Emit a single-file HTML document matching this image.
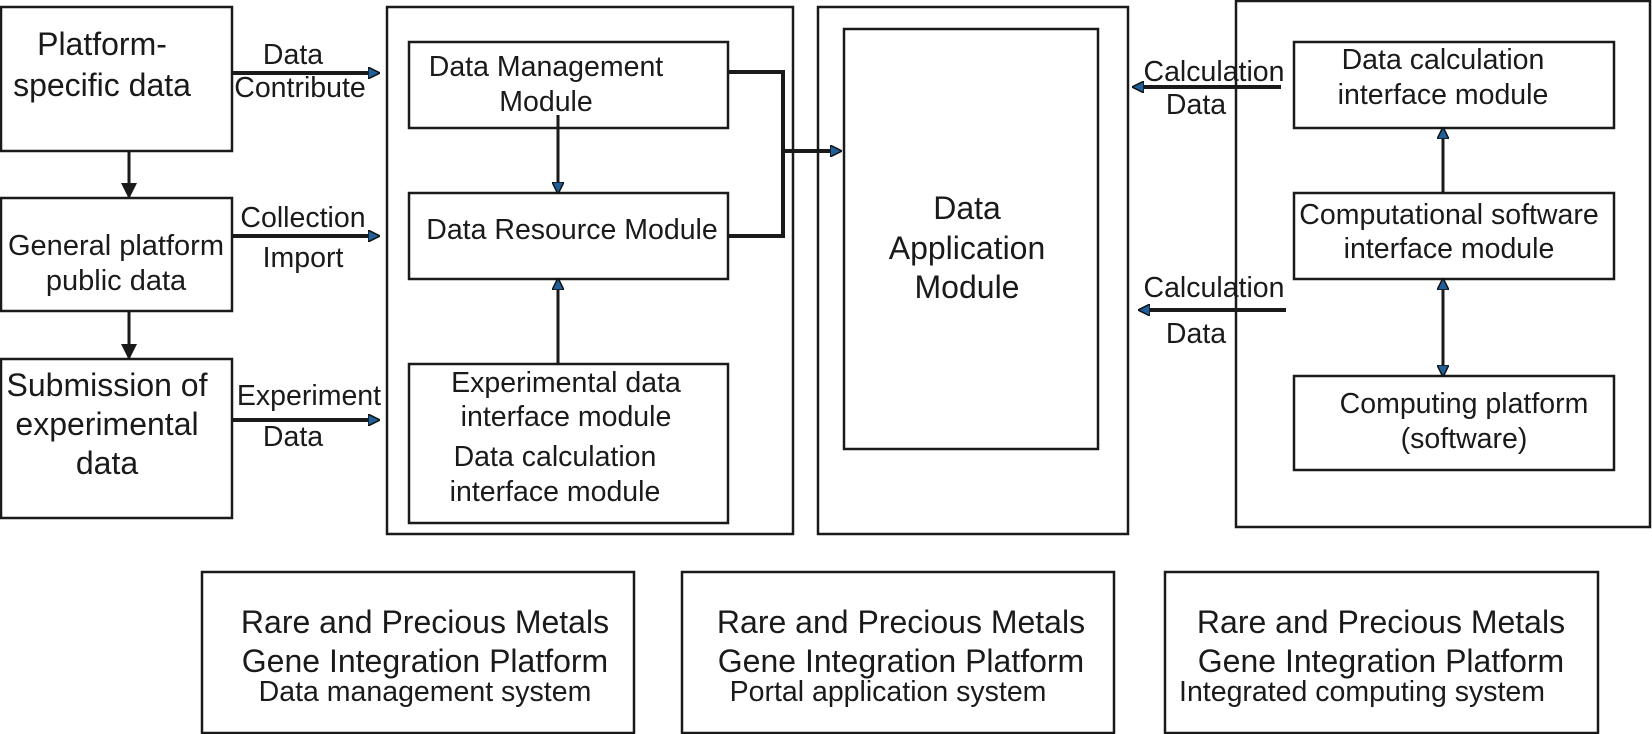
<!DOCTYPE html>
<html><head><meta charset="utf-8"><style>
html,body{margin:0;padding:0;background:#fff}
svg{display:block}
text{font-family:"Liberation Sans",Arial,sans-serif;fill:#1a1a1a;text-anchor:middle}
</style></head><body>
<svg width="1652" height="734" viewBox="0 0 1652 734">
<defs>
<marker id="a" markerWidth="12" markerHeight="12" refX="10" refY="6" orient="auto" markerUnits="userSpaceOnUse" viewBox="0 0 12 12">
<path d="M0,0 L12,6 L0,12 Z" fill="#1f5f9a" stroke="#111" stroke-width="1.5"/></marker>
<marker id="b" markerWidth="16" markerHeight="16" refX="14" refY="8" orient="auto" markerUnits="userSpaceOnUse" viewBox="0 0 16 16">
<path d="M0,0 L16,8 L0,16 Z" fill="#1a1a1a"/></marker>
</defs>
<g fill="none" stroke="#1a1a1a" stroke-width="2.5">
<rect x="1" y="7" width="231" height="144"/>
<rect x="1" y="198" width="231" height="113"/>
<rect x="1" y="359" width="231" height="159"/>
<rect x="387" y="7" width="406" height="527"/>
<rect x="409" y="42" width="319" height="86"/>
<rect x="409" y="193" width="319" height="86"/>
<rect x="409" y="364" width="319" height="159"/>
<rect x="818" y="7" width="310" height="527"/>
<rect x="844" y="29" width="254" height="420"/>
<rect x="1236" y="1" width="414" height="526"/>
<rect x="1294" y="42" width="320" height="86"/>
<rect x="1294" y="193" width="320" height="86"/>
<rect x="1294" y="376" width="320" height="94"/>
<rect x="202" y="572" width="432" height="161"/>
<rect x="682" y="572" width="432" height="161"/>
<rect x="1165" y="572" width="433" height="161"/>
</g>
<g fill="none" stroke="#1a1a1a" stroke-width="4">
<line x1="232" y1="73" x2="378" y2="73" marker-end="url(#a)"/>
<line x1="232" y1="236" x2="378" y2="236" marker-end="url(#a)"/>
<line x1="232" y1="420" x2="378" y2="420" marker-end="url(#a)"/>
<polyline points="728,72 783,72 783,236 728,236"/>
<line x1="783" y1="151" x2="840" y2="151" marker-end="url(#a)"/>
<line x1="1281" y1="87" x2="1134" y2="87" marker-end="url(#a)"/>
<line x1="1286" y1="310" x2="1140" y2="310" marker-end="url(#a)"/>
</g>
<g fill="none" stroke="#1a1a1a" stroke-width="3">
<line x1="129" y1="151" x2="129" y2="197" marker-end="url(#b)"/>
<line x1="129" y1="311" x2="129" y2="358" marker-end="url(#b)"/>
<line x1="558" y1="115" x2="558" y2="192" marker-end="url(#a)"/>
<line x1="558" y1="364" x2="558" y2="280" marker-end="url(#a)"/>
<line x1="1443" y1="193" x2="1443" y2="129" marker-end="url(#a)"/>
<line x1="1443" y1="290" x2="1443" y2="375" marker-end="url(#a)"/>
<line x1="1443" y1="300" x2="1443" y2="280" marker-end="url(#a)"/>
</g>
<g font-size="32">
<text x="102" y="55">Platform-</text>
<text x="102" y="96">specific data</text>
<text x="116" y="255" font-size="29">General platform</text>
<text x="116" y="290" font-size="29">public data</text>
<text x="107" y="396">Submission of</text>
<text x="107" y="435">experimental</text>
<text x="107" y="474">data</text>
</g>
<g font-size="28.5">
<text x="293" y="64">Data</text>
<text x="300" y="97">Contribute</text>
<text x="303" y="227">Collection</text>
<text x="303" y="267">Import</text>
<text x="309" y="405">Experiment</text>
<text x="293" y="446">Data</text>
<text x="546" y="76">Data Management</text>
<text x="546" y="111">Module</text>
<text x="572" y="239">Data Resource Module</text>
<text x="566" y="392">Experimental data</text>
<text x="566" y="426">interface module</text>
<text x="555" y="466">Data calculation</text>
<text x="555" y="501">interface module</text>
<text x="1214" y="81">Calculation</text>
<text x="1196" y="114">Data</text>
<text x="1214" y="297">Calculation</text>
<text x="1196" y="343">Data</text>
<text x="1443" y="69">Data calculation</text>
<text x="1443" y="104">interface module</text>
<text x="1449" y="224">Computational software</text>
<text x="1449" y="258">interface module</text>
<text x="1464" y="413">Computing platform</text>
<text x="1464" y="448">(software)</text>
</g>
<g font-size="32">
<text x="967" y="219">Data</text>
<text x="967" y="259">Application</text>
<text x="967" y="298">Module</text>
</g>
<g font-size="32">
<text x="425" y="633">Rare and Precious Metals</text>
<text x="425" y="672">Gene Integration Platform</text>
<text x="901" y="633">Rare and Precious Metals</text>
<text x="901" y="672">Gene Integration Platform</text>
<text x="1381" y="633">Rare and Precious Metals</text>
<text x="1381" y="672">Gene Integration Platform</text>
</g>
<g font-size="28.5">
<text x="425" y="701">Data management system</text>
<text x="888" y="701">Portal application system</text>
<text x="1362" y="701">Integrated computing system</text>
</g>
</svg>
</body></html>
